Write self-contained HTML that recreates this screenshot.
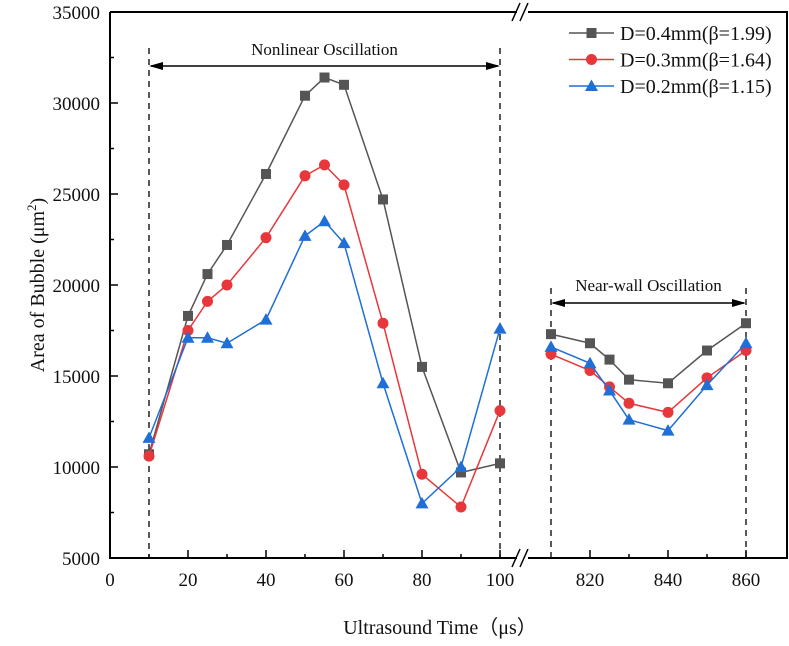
<!DOCTYPE html>
<html><head><meta charset="utf-8"><style>
body{margin:0;background:#fff}
svg text{font-family:"Liberation Serif",serif;fill:#111}
</style></head><body>
<svg id="chart" width="789" height="641" xmlns="http://www.w3.org/2000/svg">
<g id="g"></g>
</svg>
<script>
const timesLeft=[10,20,25,30,40,50,55,60,70,80,90,100];
const timesRight=[810,820,825,830,840,850,860];
const d04Left=[10700,18300,20600,22200,26100,30400,31400,31000,24700,15500,9700,10200];
const d04Right=[17300,16800,15900,14800,14600,16400,17900];
const d03Left=[10600,17500,19100,20000,22600,26000,26600,25500,17900,9600,7800,13100];
const d03Right=[16200,15300,14400,13500,13000,14900,16400];
const d02Left=[11600,17100,17100,16800,18100,22700,23500,22300,14600,8000,10000,17600];
const d02Right=[16600,15700,14200,12600,12000,14500,16800];
const yTicks=[5000,10000,15000,20000,25000,30000,35000];
const xTicksLeft=[0,20,40,60,80,100];
const xTicksRight=[820,840,860];
const seriesNames=["D=0.4mm(β=1.99)","D=0.3mm(β=1.64)","D=0.2mm(β=1.15)"];

const NS="http://www.w3.org/2000/svg";
const g=document.getElementById('g');
const L=110,R=787,T=12,B=558;
function xs(t){return t<=400? L+t*3.9 : 551+(t-810)*3.9;}
function ys(v){return B-(v-5000)*(B-T)/30000;}
function el(tag,attrs,parent){const e=document.createElementNS(NS,tag);for(const k in attrs)e.setAttribute(k,attrs[k]);(parent||g).appendChild(e);return e;}
function txt(s,attrs){const e=el('text',attrs);e.textContent=s;return e;}

let f=el('path',{d:`M${L},${T} V${B} H517 M528,${B} H${R} V${T} H528 M517,${T} H${L}`,fill:'none',stroke:'#000','stroke-width':2});

[[B],[T]].forEach(([y])=>{
 let b=el('path',{d:`M512,${y+9} L520,${y-9} M520,${y+9} L528,${y-9}`,stroke:'#000','stroke-width':1.5,fill:'none'});
 
});
yTicks.forEach((v,i)=>{
 const y=ys(v);
 let t=el('line',{x1:L,x2:L+8,y1:y,y2:y,stroke:'#000','stroke-width':1.5});
 
 if(i<yTicks.length-1){let m=el('line',{x1:L,x2:L+4,y1:ys(v+2500),y2:ys(v+2500),stroke:'#000','stroke-width':1.5});}
 let l=txt(v,{x:L-10,y:y+7,'text-anchor':'end','font-size':19});
 
});
function xtick(t,major){let e=el('line',{x1:xs(t),x2:xs(t),y1:B,y2:B-(major?8:4),stroke:'#000','stroke-width':1.5});}
xTicksLeft.forEach(t=>{xtick(t,true);if(t<100)xtick(t+10,false);
 let l=txt(t,{x:xs(t),y:B+28,'text-anchor':'middle','font-size':19});});
xTicksRight.forEach(t=>{xtick(t,true);if(t<860)xtick(t+10,false);
 let l=txt(t,{x:xs(t),y:B+28,'text-anchor':'middle','font-size':19});});
let yt=txt('',{transform:'translate(44,285) rotate(-90)','text-anchor':'middle','font-size':20});
yt.innerHTML='Area of Bubble (μm<tspan dy="-8" font-size="13">2</tspan><tspan dy="8">)</tspan>';

let xt=txt('Ultrasound Time（μs）',{x:440,y:634,'text-anchor':'middle','font-size':20});

function dash(t,y1){let d=el('line',{x1:xs(t),x2:xs(t),y1:y1,y2:B,stroke:'#000','stroke-width':1.3,'stroke-dasharray':'6,5'});}
dash(10,48);dash(100,48);dash(810,288);dash(860,288);
function arrow(t1,t2,y,name){
 let a=el('line',{x1:xs(t1)+2,x2:xs(t2)-2,y1:y,y2:y,stroke:'#000','stroke-width':1.5});
 el('path',{d:`M${xs(t1)},${y} l14,-4 v8z M${xs(t2)},${y} l-14,-4 v8z`,fill:'#000'});
}
arrow(10,100,66,'nonlinear-range-arrow');arrow(810,860,303,'near-wall-range-arrow');
let a1=txt('Nonlinear Oscillation',{x:xs(55),y:55,'text-anchor':'middle','font-size':17});
let a2=txt('Near-wall Oscillation',{x:xs(835),y:291,'text-anchor':'middle','font-size':17});
const colors=['#555555','#e8373a','#1f6fd6'];
const left=[d04Left,d03Left,d02Left],right=[d04Right,d03Right,d02Right];
function marker(k,x,y,parent){
 if(k===0)return el('rect',{x:x-5,y:y-5,width:10,height:10,fill:colors[k]},parent);
 if(k===1)return el('circle',{cx:x,cy:y,r:5.5,fill:colors[k]},parent);
 return el('path',{d:`M${x},${y-6.5} L${x+6.5},${y+5} L${x-6.5},${y+5}Z`,fill:colors[k]},parent);
}
[0,1,2].forEach(k=>{
 const sg=el('g',{});
 
 [[timesLeft,left[k]],[timesRight,right[k]]].forEach(([ts,vs])=>{
  const pts=ts.map((t,i)=>xs(t)+','+ys(vs[i])).join(' ');
  let p=el('polyline',{points:pts,fill:'none',stroke:colors[k],'stroke-width':1.5},sg);
  
  ts.forEach((t,i)=>{let m=marker(k,xs(t),ys(vs[i]),sg);});
 });
});
seriesNames.forEach((n,k)=>{
 const y=33+k*26.5;
 const lg=el('g',{});
 el('line',{x1:569,x2:614,y1:y,y2:y,stroke:colors[k],'stroke-width':1.5},lg);
 marker(k,591.5,y,lg);
 let t=txt(n,{x:620,y:y+7,'font-size':20});lg.appendChild(t);
});
</script>
</body></html>
